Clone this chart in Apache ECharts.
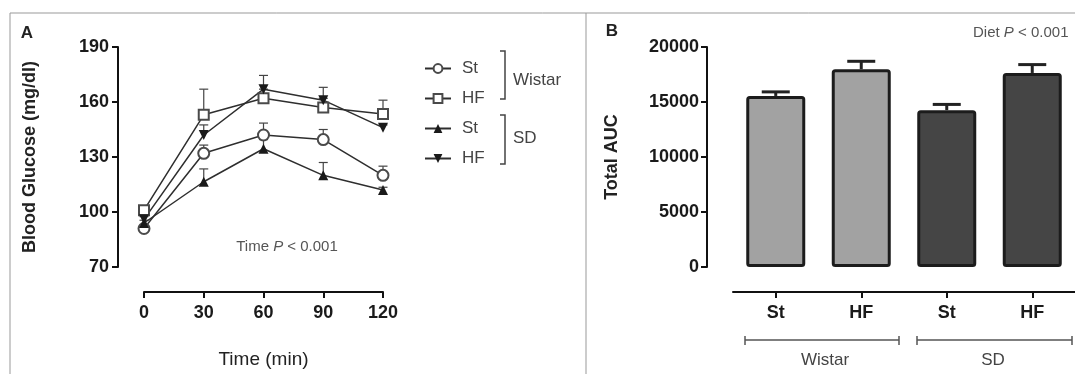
<!DOCTYPE html>
<html>
<head>
<meta charset="utf-8">
<script src="https://cdn.jsdelivr.net/npm/echarts@6/dist/echarts.min.js"></script>
<style>
html,body{margin:0;padding:0;background:#fff;}
#chart{width:1075px;height:374px;}
</style>
</head>
<body>
<div id="chart"></div>
<script>
// ---- Panel A data: blood glucose (mg/dl) over time ----
const timePoints = [0, 30, 60, 90, 120];
const wistarSt    = [91, 132, 142, 139.5, 120];
const wistarStErr = [1.5, 4.5, 6.5, 5.5, 5];
const wistarHF    = [101, 153, 162, 157, 153.5];
const wistarHFErr = [2, 14, 5, 5, 7.5];
const sdSt        = [94, 116.5, 134.5, 120, 112];
const sdStErr     = [1.5, 7, 5, 7, 1.5];
const sdHF        = [96, 142, 167, 161, 146];
const sdHFErr     = [1.5, 5.5, 7.5, 7, 1.5];
const glucoseTicks = [70, 100, 130, 160, 190];

// ---- Panel B data: total AUC ----
const aucGroups = ['Wistar', 'Wistar', 'SD', 'SD'];
const aucDiets  = ['St', 'HF', 'St', 'HF'];
const aucValues = [15550, 17980, 14260, 17640];
const aucErr    = [370, 720, 520, 760];
const aucTicks  = [0, 5000, 10000, 15000, 20000];

const FONT = 'Liberation Sans, Arial, sans-serif';
const chart = echarts.init(document.getElementById('chart'), null, {renderer: 'canvas'});

function pairs(xs, ys, es) { return xs.map((x, i) => [x, ys[i], es[i]]); }

function errRender(halfCap, width, color) {
  return function (params, api) {
    const x = api.value(0), y = api.value(1), e = api.value(2);
    const p0 = api.coord([x, y]);
    const p1 = api.coord([x, y + e]);
    return {
      type: 'group',
      children: [
        {type: 'line', shape: {x1: p0[0], y1: p0[1], x2: p1[0], y2: p1[1]}, style: {stroke: color, lineWidth: width}},
        {type: 'line', shape: {x1: p1[0] - halfCap, y1: p1[1], x2: p1[0] + halfCap, y2: p1[1]}, style: {stroke: color, lineWidth: width}}
      ]
    };
  };
}

const lineSeriesDefs = [
  {name: 'Wistar St', data: wistarSt, err: wistarStErr, symbol: 'emptyCircle', size: 11, rotate: 0},
  {name: 'Wistar HF', data: wistarHF, err: wistarHFErr, symbol: 'emptyRect', size: 10, rotate: 0},
  {name: 'SD St', data: sdSt, err: sdStErr, symbol: 'triangle', size: 10, rotate: 0},
  {name: 'SD HF', data: sdHF, err: sdHFErr, symbol: 'triangle', size: 10, rotate: 180}
];

const series = [];
lineSeriesDefs.forEach(d => {
  series.push({
    type: 'custom', xAxisIndex: 0, yAxisIndex: 0, z: 1, clip: false,
    renderItem: errRender(4.5, 1.2, '#444'),
    data: pairs(timePoints, d.data, d.err), silent: true
  });
});
lineSeriesDefs.forEach(d => {
  series.push({
    name: d.name, type: 'line', xAxisIndex: 0, yAxisIndex: 0, z: 3, clip: false,
    data: timePoints.map((t, i) => [t, d.data[i]]),
    symbol: d.symbol, symbolSize: d.size, symbolRotate: d.rotate, showAllSymbol: true,
    lineStyle: {color: '#2e2e2e', width: 1.5},
    itemStyle: {color: d.symbol.indexOf('empty') === 0 ? '#4a4a4a' : '#1a1a1a', borderWidth: 1.4}
  });
});

const aucCategories = aucGroups.map((g, i) => g + ' ' + aucDiets[i]);
series.push({
  type: 'bar', xAxisIndex: 1, yAxisIndex: 1, barWidth: 59, z: 3,
  data: aucValues.map((v, i) => ({
    value: v,
    itemStyle: {color: aucGroups[i] === 'Wistar' ? '#a2a2a2' : '#454545', borderColor: '#1c1c1c', borderWidth: 3, borderRadius: 2}
  }))
});
series.push({
  type: 'custom', xAxisIndex: 1, yAxisIndex: 1, z: 2, clip: false,
  renderItem: errRender(14, 3, '#222'),
  data: aucValues.map((v, i) => [i, v, aucErr[i]]), silent: true
});

const axisLineStyle = {color: '#111', width: 2};
const tickLabel = {fontSize: 18, fontWeight: 'bold', color: '#1a1a1a', fontFamily: FONT};

const option = {
  animation: false,
  backgroundColor: '#fff',
  grid: [
    {left: 144, right: 692, top: 47, bottom: 106, containLabel: false},
    {left: 733, right: -3, top: 47, bottom: 107, containLabel: false}
  ],
  xAxis: [
    {
      type: 'value', gridIndex: 0, min: 0, max: 120, interval: 30, offset: 25,
      axisLine: {show: true, onZero: false, lineStyle: axisLineStyle},
      axisTick: {show: true, length: 6, lineStyle: {color: '#111', width: 2}},
      axisLabel: Object.assign({margin: 12}, tickLabel),
      splitLine: {show: false},
      name: 'Time (min)', nameLocation: 'middle', nameGap: 58,
      nameTextStyle: {fontSize: 19, color: '#222', fontFamily: FONT}
    },
    {
      type: 'category', gridIndex: 1, data: aucCategories, offset: 25,
      axisLine: {show: true, onZero: false, lineStyle: axisLineStyle},
      axisTick: {show: true, alignWithLabel: true, length: 6, lineStyle: {color: '#111', width: 2}},
      axisLabel: Object.assign({margin: 12, formatter: v => v.split(' ')[1]}, tickLabel),
      splitLine: {show: false}
    }
  ],
  yAxis: [
    {
      type: 'value', gridIndex: 0, min: glucoseTicks[0], max: glucoseTicks[glucoseTicks.length - 1], interval: 30, offset: 26,
      axisLine: {show: true, onZero: false, lineStyle: axisLineStyle},
      axisTick: {show: true, length: 6, lineStyle: {color: '#111', width: 2}},
      axisLabel: Object.assign({margin: 9, formatter: v => String(v)}, tickLabel),
      splitLine: {show: false},
      name: 'Blood Glucose (mg/dl)', nameLocation: 'middle', nameGap: 79,
      nameTextStyle: {fontSize: 18, fontWeight: 'bold', color: '#222', fontFamily: FONT}
    },
    {
      type: 'value', gridIndex: 1, min: aucTicks[0], max: aucTicks[aucTicks.length - 1], interval: 5000, offset: 26,
      axisLine: {show: true, onZero: false, lineStyle: axisLineStyle},
      axisTick: {show: true, length: 6, lineStyle: {color: '#111', width: 2}},
      axisLabel: Object.assign({margin: 8, formatter: v => String(v)}, tickLabel),
      splitLine: {show: false},
      name: 'Total AUC', nameLocation: 'middle', nameGap: 86,
      nameTextStyle: {fontSize: 18, fontWeight: 'bold', color: '#222', fontFamily: FONT}
    }
  ],
  legend: {
    orient: 'vertical', left: 419, top: 55, itemWidth: 26, itemHeight: 11, itemGap: 13,
    data: lineSeriesDefs.map(d => d.name),
    formatter: n => n.split(' ')[1],
    textStyle: {fontSize: 17, color: '#444', fontFamily: FONT, padding: [0, 0, 0, 6]},
    selectedMode: false
  },
  graphic: [
    // panel frame
    {type: 'line', shape: {x1: 10, y1: 13, x2: 1075, y2: 13}, style: {stroke: '#999', lineWidth: 1}, silent: true},
    {type: 'line', shape: {x1: 10, y1: 13, x2: 10, y2: 374}, style: {stroke: '#999', lineWidth: 1}, silent: true},
    {type: 'line', shape: {x1: 586, y1: 13, x2: 586, y2: 374}, style: {stroke: '#999', lineWidth: 1}, silent: true},
    // panel letters
    {type: 'text', x: 27, y: 33, style: {text: 'A', fontSize: 17, fontWeight: 'bold', fill: '#222', fontFamily: FONT, textAlign: 'center', textVerticalAlign: 'middle'}},
    {type: 'text', x: 612, y: 31, style: {text: 'B', fontSize: 17, fontWeight: 'bold', fill: '#222', fontFamily: FONT, textAlign: 'center', textVerticalAlign: 'middle'}},
    // legend brackets
    {type: 'polyline', shape: {points: [[500, 51], [505, 51], [505, 99], [500, 99]]}, style: {stroke: '#444', lineWidth: 1.5, fill: null}},
    {type: 'polyline', shape: {points: [[500, 115], [505, 115], [505, 164], [500, 164]]}, style: {stroke: '#444', lineWidth: 1.5, fill: null}},
    {type: 'text', x: 513, y: 80, style: {text: 'Wistar', fontSize: 17, fill: '#444', fontFamily: FONT, textVerticalAlign: 'middle'}},
    {type: 'text', x: 513, y: 138, style: {text: 'SD', fontSize: 17, fill: '#444', fontFamily: FONT, textVerticalAlign: 'middle'}},
    // annotations
    {type: 'text', x: 287, y: 247, style: {
      text: '{n|Time }{i|P}{n| < 0.001}', textAlign: 'center', textVerticalAlign: 'middle',
      rich: {n: {fontSize: 15, fill: '#555', fontFamily: FONT}, i: {fontSize: 15, fill: '#555', fontStyle: 'italic', fontFamily: FONT}}
    }},
    {type: 'text', x: 973, y: 33, style: {
      text: '{n|Diet }{i|P}{n| < 0.001}', textAlign: 'left', textVerticalAlign: 'middle',
      rich: {n: {fontSize: 15, fill: '#555', fontFamily: FONT}, i: {fontSize: 15, fill: '#555', fontStyle: 'italic', fontFamily: FONT}}
    }},
    // group brackets under panel B
    {type: 'line', shape: {x1: 745, y1: 340, x2: 899, y2: 340}, style: {stroke: '#555', lineWidth: 1.5}},
    {type: 'line', shape: {x1: 745, y1: 336, x2: 745, y2: 345}, style: {stroke: '#555', lineWidth: 1.5}},
    {type: 'line', shape: {x1: 899, y1: 336, x2: 899, y2: 345}, style: {stroke: '#555', lineWidth: 1.5}},
    {type: 'line', shape: {x1: 917, y1: 340, x2: 1072, y2: 340}, style: {stroke: '#555', lineWidth: 1.5}},
    {type: 'line', shape: {x1: 917, y1: 336, x2: 917, y2: 345}, style: {stroke: '#555', lineWidth: 1.5}},
    {type: 'line', shape: {x1: 1072, y1: 336, x2: 1072, y2: 345}, style: {stroke: '#555', lineWidth: 1.5}},
    {type: 'text', x: 825, y: 360, style: {text: 'Wistar', fontSize: 17, fill: '#444', fontFamily: FONT, textAlign: 'center', textVerticalAlign: 'middle'}},
    {type: 'text', x: 993, y: 360, style: {text: 'SD', fontSize: 17, fill: '#444', fontFamily: FONT, textAlign: 'center', textVerticalAlign: 'middle'}}
  ],
  series: series
};
chart.setOption(option);
</script>
</body>
</html>
